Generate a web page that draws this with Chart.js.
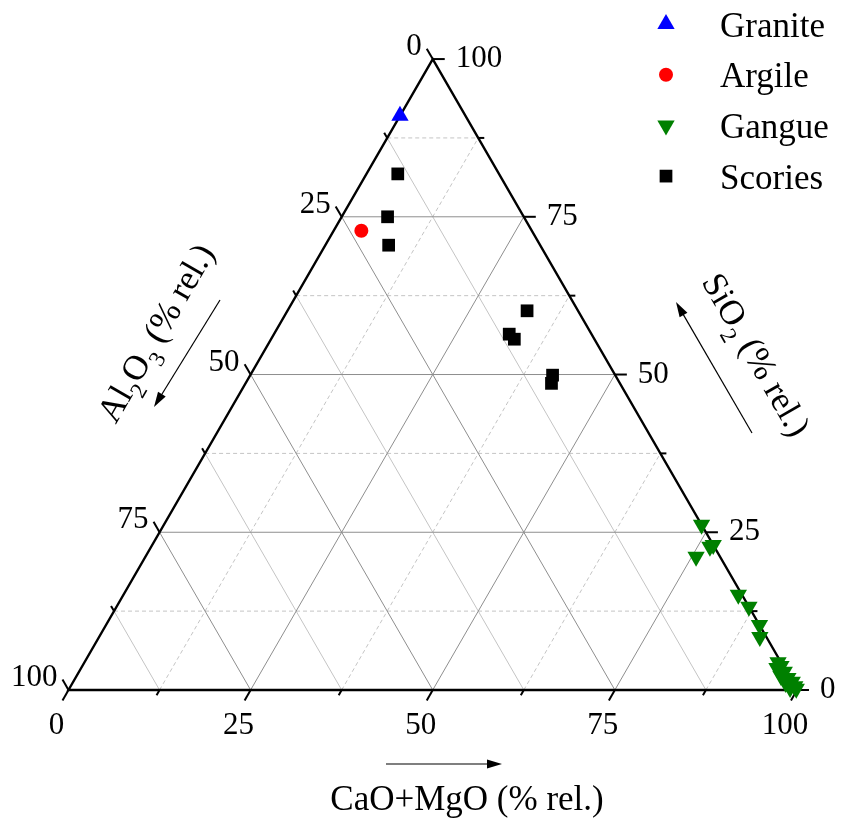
<!DOCTYPE html>
<html>
<head>
<meta charset="utf-8">
<script src="https://cdn.jsdelivr.net/npm/chart.js@4.4.0/dist/chart.umd.min.js"></script>
<style>
html, body { margin: 0; padding: 0; background: #fff; }
canvas { display: block; }
</style>
</head>
<body>
<canvas id="ternary" width="842" height="822"></canvas>
<script>
// compositions in % rel. ; Al2O3 = 100 - CaO - SiO2
var graniteCaO  = [0.0]
var graniteSiO2 = [91.0]
var argileCaO   = [3.8]
var argileSiO2  = [72.8]
var gangueCaO   = [73.8, 76.7, 77.0, 75.6, 84.4, 86.8, 89.7, 90.7, 95.2, 95.9, 95.5, 96.8, 96.7, 97.8, 97.9, 98.7, 99.4, 99.8, 98.9]
var gangueSiO2  = [26.2, 22.7, 23.0, 21.1, 15.1, 13.2, 10.3, 8.4, 4.4, 3.8, 3.5, 2.9, 2.2, 1.9, 1.1, 1.3, 0.6, 0.2, 0.3]
var scoriesCaO  = [4.3, 6.3, 8.7, 32.9, 32.3, 33.4, 41.5, 42.0]
var scoriesSiO2 = [81.8, 75.0, 70.5, 60.1, 56.4, 55.6, 49.9, 48.6]

var majorTicks = [0, 25, 50, 75, 100]
var minorTicks = [12.5, 37.5, 62.5, 87.5]
var seriesNames = ["Granite", "Argile", "Gangue", "Scories"]

var FONT = '"Liberation Serif", "Times New Roman", serif'
var H = Math.sqrt(3) / 2

function toXY(c, s){
    return {x: c + s / 2, y: s * H}
}
function makePoints(cList, sList){
    return cList.map((c, i)=>{ return toXY(c, sList[i]) })
}
function P(chart, c, s){
    var q = toXY(c, s)
    return [chart.scales.x.getPixelForValue(q.x), chart.scales.y.getPixelForValue(q.y)]
}
function line(ctx, a, b){
    ctx.beginPath(); ctx.moveTo(a[0], a[1]); ctx.lineTo(b[0], b[1]); ctx.stroke()
}
function richText(ctx, parts, size, x, y, align){
    var w = 0
    parts.forEach((p)=>{ ctx.font = (p.sub ? size * 0.66 : size) + 'px ' + FONT; w += ctx.measureText(p.t).width })
    var cx = align == 'center' ? x - w / 2 : (align == 'right' ? x - w : x)
    ctx.textAlign = 'left'
    ctx.textBaseline = 'alphabetic'
    parts.forEach((p)=>{
        ctx.font = (p.sub ? size * 0.66 : size) + 'px ' + FONT
        ctx.fillText(p.t, cx, y + (p.sub ? size * 0.3 : 0))
        cx += ctx.measureText(p.t).width
    })
}
function arrow(ctx, x1, y1, x2, y2){
    var ang = Math.atan2(y2 - y1, x2 - x1)
    ctx.strokeStyle = '#000'; ctx.lineWidth = 1.2
    line(ctx, [x1, y1], [x2 - 10 * Math.cos(ang), y2 - 10 * Math.sin(ang)])
    ctx.beginPath()
    ctx.moveTo(x2, y2)
    ctx.lineTo(x2 - 15 * Math.cos(ang) + 4.5 * Math.sin(ang), y2 - 15 * Math.sin(ang) - 4.5 * Math.cos(ang))
    ctx.lineTo(x2 - 15 * Math.cos(ang) - 4.5 * Math.sin(ang), y2 - 15 * Math.sin(ang) + 4.5 * Math.cos(ang))
    ctx.closePath(); ctx.fillStyle = '#000'; ctx.fill()
}

var ternaryGrid = {
    id: 'ternaryGrid',
    beforeDatasetsDraw(chart){
        var ctx = chart.ctx
        ctx.save()
        ctx.lineWidth = 1
        // minor lines
        minorTicks.forEach((v)=>{
            ctx.strokeStyle = '#c4c4c4'
            ctx.setLineDash([4, 3])
            line(ctx, P(chart, 0, v), P(chart, 100 - v, v))        // SiO2 const
            line(ctx, P(chart, v, 0), P(chart, v, 100 - v))        // CaO const
            ctx.setLineDash([])
            line(ctx, P(chart, 100 - v, 0), P(chart, 0, 100 - v))  // Al2O3 const
        })
        // major lines
        ctx.strokeStyle = '#8e8e8e'
        majorTicks.slice(1, 4).forEach((v)=>{
            line(ctx, P(chart, 0, v), P(chart, 100 - v, v))
            line(ctx, P(chart, v, 0), P(chart, v, 100 - v))
            line(ctx, P(chart, 100 - v, 0), P(chart, 0, 100 - v))
        })
        // frame
        ctx.strokeStyle = '#000'
        ctx.lineWidth = 2.4
        ctx.lineJoin = 'miter'
        var a = P(chart, 0, 0), b = P(chart, 100, 0), c = P(chart, 0, 100)
        ctx.beginPath(); ctx.moveTo(a[0], a[1]); ctx.lineTo(b[0], b[1]); ctx.lineTo(c[0], c[1]); ctx.closePath(); ctx.stroke()
        // ticks
        ctx.lineWidth = 2
        majorTicks.concat(minorTicks).forEach((v)=>{
            var len = majorTicks.indexOf(v) >= 0 ? 12 : 6
            var p = P(chart, v, 0)
            line(ctx, p, [p[0] - 0.5 * len, p[1] + H * len])
            p = P(chart, 100 - v, v)
            line(ctx, p, [p[0] + len, p[1]])
            p = P(chart, 0, 100 - v)
            line(ctx, p, [p[0] - 0.5 * len, p[1] - H * len])
        })
        ctx.restore()
    },
    afterDatasetsDraw(chart){
        var ctx = chart.ctx
        ctx.save()
        ctx.fillStyle = '#000'
        // tick labels
        majorTicks.forEach((v)=>{
            var p = P(chart, v, 0)
            richText(ctx, [{t: String(v)}], 31, p[0] - 12, p[1] + 44, 'center')
            p = P(chart, 100 - v, v)
            richText(ctx, [{t: String(v)}], 31, p[0] + 23, p[1] + 8, 'left')
            p = P(chart, 0, 100 - v)
            richText(ctx, [{t: String(v)}], 31, p[0] - 11, p[1] - 4, 'right')
        })
        // axis titles
        richText(ctx, [{t: 'CaO+MgO (% rel.)'}], 35, 467, 810, 'center')
        arrow(ctx, 386, 764, 502, 764)

        ctx.save()
        ctx.translate(756, 355)
        ctx.rotate(Math.PI / 3)
        richText(ctx, [{t: 'SiO'}, {t: '2', sub: true}, {t: ' (% rel.)'}], 35, 0, 11, 'center')
        ctx.restore()
        arrow(ctx, 752, 433, 676, 302)

        ctx.save()
        ctx.translate(156, 333)
        ctx.rotate(-Math.PI / 3)
        richText(ctx, [{t: 'Al'}, {t: '2', sub: true}, {t: 'O'}, {t: '3', sub: true}, {t: ' (% rel.)'}], 35, 0, 11, 'center')
        ctx.restore()
        arrow(ctx, 220, 300, 154, 407)

        // legend
        chart.data.datasets.forEach((ds, i)=>{
            var yy = 24 + i * 50.7
            var opts = {pointStyle: ds.pointStyle, rotation: ds.pointRotation || 0, radius: ds.pointRadius, borderWidth: 0}
            ctx.fillStyle = ds.pointBackgroundColor
            ctx.strokeStyle = ds.pointBackgroundColor
            Chart.helpers.drawPoint(ctx, opts, 666, yy)
            ctx.fillStyle = '#000'
            richText(ctx, [{t: ds.label}], 35, 720, yy + 12.5, 'left')
        })
        ctx.restore()
    }
}

new Chart(document.getElementById('ternary'), {
    type: 'scatter',
    data: {
        datasets: [
            {label: seriesNames[0], data: makePoints(graniteCaO, graniteSiO2), pointStyle: 'triangle', pointRadius: 10, pointBackgroundColor: '#0000ff', pointBorderWidth: 0},
            {label: seriesNames[1], data: makePoints(argileCaO, argileSiO2), pointStyle: 'circle', pointRadius: 7, pointBackgroundColor: '#ff0000', pointBorderWidth: 0},
            {label: seriesNames[2], data: makePoints(gangueCaO, gangueSiO2), pointStyle: 'triangle', pointRotation: 180, pointRadius: 10, pointBackgroundColor: '#008000', pointBorderWidth: 0},
            {label: seriesNames[3], data: makePoints(scoriesCaO, scoriesSiO2), pointStyle: 'rect', pointRadius: 9, pointBackgroundColor: '#000000', pointBorderWidth: 0}
        ]
    },
    options: {
        responsive: false,
        animation: false,
        layout: {padding: 0, autoPadding: false},
        scales: {
            x: {type: 'linear', display: false, min: -9.403, max: 106.18},
            y: {type: 'linear', display: false, min: -18.12, max: 94.71}
        },
        plugins: {legend: {display: false}, tooltip: {enabled: false}}
    },
    plugins: [ternaryGrid]
})
</script>
</body>
</html>
